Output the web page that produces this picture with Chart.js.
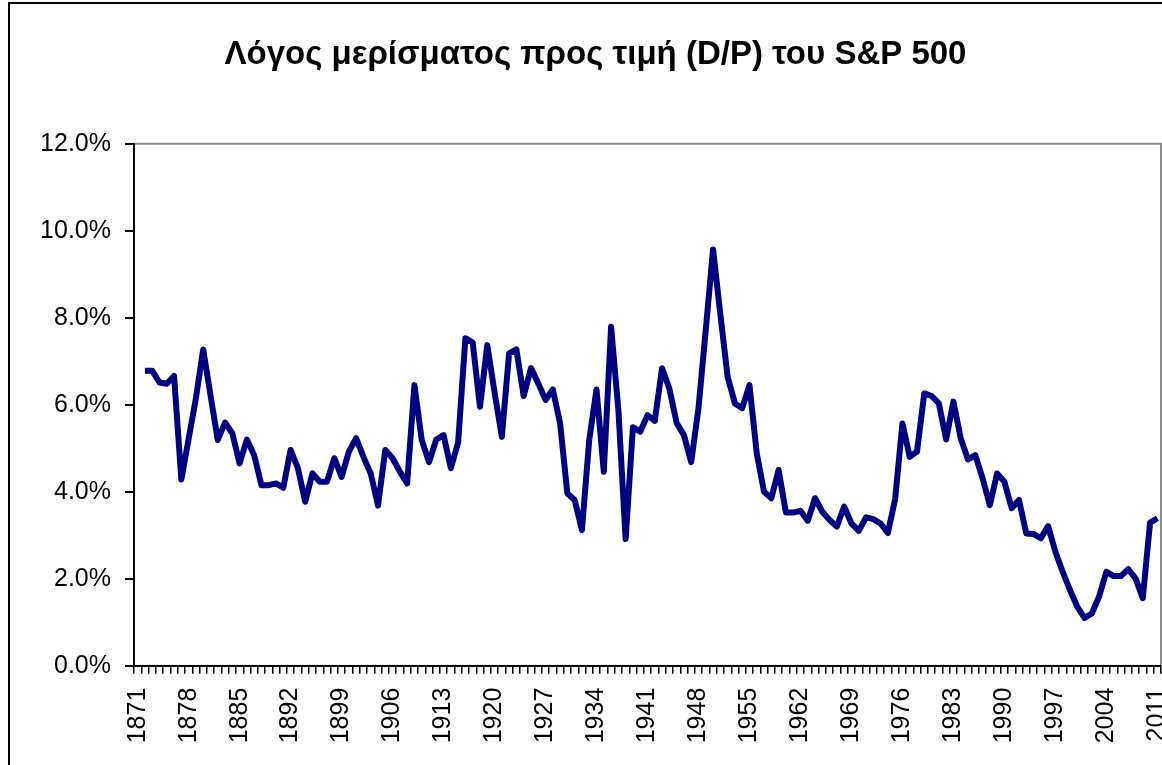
<!DOCTYPE html>
<html>
<head>
<meta charset="utf-8">
<script src="https://cdn.jsdelivr.net/npm/chart.js@4"></script>
<style>
  html, body { margin: 0; padding: 0; background: #fff; }
  #wrap { width: 1162px; height: 765px; }
</style>
</head>
<body>
<div id="wrap"><canvas id="dpChart" width="1162" height="765"></canvas></div>
<script>
// years on the category axis (1871 has no value)
const firstYear = 1871;
const lastYear = 2011;
const years = [];
for (let y = firstYear; y <= lastYear; y++) years.push(String(y));

// dividend / price ratio, in percent
const dpRatio = [
  null,
  6.78, 6.78, 6.51, 6.48, 6.66, 4.28, 5.21, 6.15, 7.27,             // 1872-1880
  6.22, 5.19, 5.59, 5.34, 4.65, 5.20, 4.84, 4.15, 4.15, 4.19,       // 1881-1890
  4.09, 4.96, 4.54, 3.77, 4.42, 4.23, 4.23, 4.77, 4.34, 4.92,       // 1891-1900
  5.23, 4.80, 4.42, 3.68, 4.96, 4.77, 4.46, 4.19, 6.45, 5.19,       // 1901-1910
  4.68, 5.20, 5.30, 4.54, 5.13, 7.53, 7.43, 5.95, 7.37, 6.29,       // 1911-1920
  5.26, 7.18, 7.27, 6.20, 6.84, 6.49, 6.11, 6.35, 5.57, 3.96,       // 1921-1930
  3.81, 3.12, 5.19, 6.35, 4.46, 7.79, 5.88, 2.91, 5.48, 5.38,       // 1931-1940
  5.76, 5.63, 6.84, 6.37, 5.58, 5.30, 4.68, 5.92, 7.72, 9.57,       // 1941-1950
  8.08, 6.64, 6.03, 5.92, 6.45, 4.88, 4.00, 3.85, 4.50, 3.52,       // 1951-1960
  3.52, 3.56, 3.33, 3.85, 3.54, 3.35, 3.20, 3.66, 3.27, 3.10,       // 1961-1970
  3.41, 3.37, 3.27, 3.05, 3.83, 5.57, 4.80, 4.92, 6.26, 6.20,       // 1971-1980
  6.03, 5.20, 6.07, 5.23, 4.74, 4.84, 4.31, 3.69, 4.42, 4.23,       // 1981-1990
  3.62, 3.81, 3.04, 3.03, 2.93, 3.21, 2.62, 2.16, 1.74, 1.36,       // 1991-2000
  1.10, 1.20, 1.59, 2.16, 2.06, 2.06, 2.22, 2.01, 1.55, 3.29,       // 2001-2010
  3.39                                                              // 2011
];

const chartTitle = "Λόγος μερίσματος προς τιμή (D/P) του S&P 500";
const labelEvery = 7;
const yMax = 12;
const yStep = 2;

const FONT = "'Liberation Sans', Arial, sans-serif";

// outer frame, title (centred on the full chart object, which runs past the right edge)
// and the grey border round the plot area
const framePlugin = {
  id: "frame",
  beforeDraw(chart) {
    const c = chart.ctx;
    c.save();
    c.fillStyle = "#fff";
    c.fillRect(0, 0, chart.width, chart.height);
    c.strokeStyle = "#000";
    c.lineWidth = 2;
    c.strokeRect(9, 3, chart.width + 20, chart.height + 20);

    c.fillStyle = "#000";
    c.font = "bold 33px " + FONT;
    c.textAlign = "center";
    c.textBaseline = "alphabetic";
    c.fillText(chartTitle, 595.5, 63.5);

    const a = chart.chartArea;
    c.strokeStyle = "#8c8c8c";
    c.lineWidth = 2;
    c.beginPath();
    c.moveTo(a.left, a.top);
    c.lineTo(a.right, a.top);
    c.lineTo(a.right, a.bottom);
    c.stroke();
    c.restore();
  }
};

const ctx = document.getElementById("dpChart").getContext("2d");
new Chart(ctx, {
  type: "line",
  data: {
    labels: years,
    datasets: [{
      label: "D/P",
      data: dpRatio,
      borderColor: "#000080",
      borderWidth: 6,
      borderJoinStyle: "round",
      pointRadius: 0,
      tension: 0,
      fill: false
    }]
  },
  options: {
    responsive: false,
    animation: false,
    layout: { autoPadding: false, padding: { left: 0, right: 1, top: 143.7, bottom: 0 } },
    plugins: {
      legend: { display: false },
      tooltip: { enabled: false },
      title: { display: false }
    },
    scales: {
      x: {
        offset: true,
        grid: { display: true, offset: true, drawOnChartArea: false, color: "#000", lineWidth: 1.5, tickLength: 8 },
        border: { color: "#000", width: 2 },
        ticks: {
          autoSkip: false,
          maxRotation: 90,
          minRotation: 90,
          padding: 14,
          color: "#000",
          font: { family: FONT, size: 25 },
          callback: (v, i) => (i % labelEvery === 0 ? years[i] : "")
        },
        afterFit: s => {
          s.height = 765 - 143.7 - 522;
          s.paddingLeft = 0;
          s.paddingRight = 0;
        }
      },
      y: {
        min: 0,
        max: yMax,
        grid: { display: true, drawOnChartArea: false, color: "#000", lineWidth: 2, tickLength: 9 },
        border: { color: "#000", width: 2 },
        ticks: {
          stepSize: yStep,
          padding: 14,
          color: "#000",
          font: { family: FONT, size: 25 },
          callback: v => v.toFixed(1) + "%"
        },
        afterFit: s => {
          s.width = 134;
          s.paddingTop = 0;
          s.paddingBottom = 0;
        }
      }
    }
  },
  plugins: [framePlugin]
});
</script>
</body>
</html>
